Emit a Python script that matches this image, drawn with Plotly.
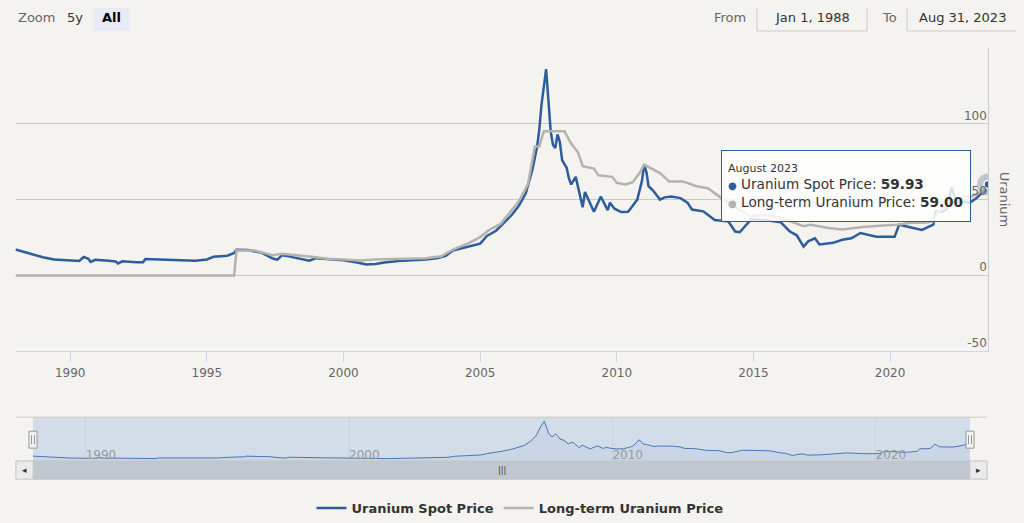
import plotly.graph_objects as go

# ---------------- data ----------------
spot_dates = ["1988-01", "1988-06", "1989-01", "1989-06", "1990-01", "1990-05", "1990-07", "1990-09",
              "1990-10", "1990-12", "1991-06", "1991-09", "1991-10", "1991-12", "1992-06", "1992-09",
              "1992-10", "1993-06", "1994-01", "1994-08", "1995-01", "1995-04", "1995-10", "1996-01",
              "1996-02", "1996-07", "1997-01", "1997-06", "1997-08", "1997-10", "1998-01", "1998-06",
              "1998-10", "1999-01", "1999-06", "2000-01", "2000-07", "2000-11", "2001-03", "2001-07",
              "2002-01", "2002-06", "2003-01", "2003-06", "2003-10", "2004-01", "2004-06", "2004-10",
              "2005-01", "2005-04", "2005-08", "2005-11", "2006-03", "2006-06", "2006-09", "2006-12",
              "2007-02", "2007-03", "2007-04", "2007-06", "2007-08", "2007-09", "2007-10", "2007-11",
              "2007-12", "2008-01", "2008-03", "2008-04", "2008-05", "2008-07", "2008-10", "2008-11",
              "2009-01", "2009-03", "2009-06", "2009-09", "2009-10", "2009-12", "2010-03", "2010-06",
              "2010-08", "2010-10", "2010-12", "2011-01", "2011-02", "2011-03", "2011-05", "2011-08",
              "2011-10", "2012-01", "2012-05", "2012-08", "2012-10", "2013-03", "2013-05", "2013-08",
              "2014-02", "2014-05", "2014-07", "2014-09", "2014-12", "2015-06", "2016-01", "2016-05",
              "2016-08", "2016-11", "2017-01", "2017-04", "2017-06", "2017-12", "2018-04", "2018-08",
              "2018-12", "2019-07", "2020-03", "2020-05", "2020-10", "2021-03", "2021-08", "2021-09",
              "2021-12", "2022-02", "2022-04", "2022-06", "2022-09", "2022-12", "2023-03", "2023-05",
              "2023-07", "2023-08"]
spot_values = [17.1, 15.0, 12.0, 10.5, 9.8, 9.6, 12.2, 11.0,
               8.9, 10.3, 9.7, 9.2, 7.9, 9.3, 8.8, 8.7,
               10.9, 10.5, 10.4, 9.7, 10.6, 12.3, 13.0, 14.8,
               17.0, 16.8, 15.0, 11.2, 10.4, 13.3, 12.6, 11.2,
               9.8, 11.4, 10.9, 10.0, 8.6, 7.2, 7.5, 8.6,
               9.6, 9.9, 10.5, 11.3, 13.0, 16.5, 18.5, 20.0,
               21.0, 26.0, 29.5, 34.0, 40.0, 46.0, 54.0, 70.0,
               85.0, 96.0, 113.0, 136.0, 95.0, 86.0, 84.0, 93.0,
               88.0, 76.0, 71.0, 64.0, 60.0, 65.0, 45.0, 55.0,
               48.0, 42.0, 52.0, 43.0, 48.0, 44.0, 41.8, 42.0,
               46.0, 50.0, 62.0, 72.6, 68.0, 58.8, 56.0, 50.0,
               51.5, 52.0, 51.0, 48.0, 43.5, 42.3, 40.0, 36.5,
               35.5, 29.0, 28.5, 32.0, 37.0, 36.5, 35.0, 29.0,
               26.5, 19.0, 22.5, 24.5, 20.5, 21.5, 23.5, 24.5,
               28.0, 25.5, 25.5, 33.5, 31.5, 30.0, 33.5, 42.5,
               42.0, 44.0, 58.0, 49.0, 48.5, 48.0, 51.0, 54.0,
               56.0, 59.93]

lt_dates = ["1988-01", "1996-01", "1996-02", "1996-10", "1997-06", "1997-10", "1998-10", "1999-06",
            "2000-01", "2000-08", "2001-03", "2003-01", "2003-08", "2004-01", "2004-08", "2005-01",
            "2005-05", "2005-10", "2006-06", "2006-10", "2007-01", "2007-03", "2007-05", "2008-02",
            "2008-05", "2008-08", "2008-10", "2009-03", "2009-05", "2009-11", "2010-01", "2010-05",
            "2010-08", "2010-11", "2011-01", "2011-04", "2011-08", "2011-12", "2012-06", "2012-12",
            "2013-05", "2013-11", "2014-06", "2014-12", "2015-06", "2016-01", "2016-11", "2017-02",
            "2017-10", "2018-04", "2019-01", "2019-10", "2020-04", "2020-10", "2021-04", "2021-08",
            "2021-10", "2022-03", "2022-06", "2022-10", "2023-01", "2023-05", "2023-08"]
lt_values = [0.0, 0.0, 16.5, 16.4, 13.4, 14.3, 12.5, 11.0,
             10.5, 9.9, 10.5, 11.3, 12.7, 17.0, 21.3, 25.3,
             30.0, 34.0, 48.9, 60.0, 85.0, 85.0, 95.0, 95.0,
             87.0, 81.0, 72.0, 70.5, 66.0, 65.0, 61.0, 60.0,
             61.5, 67.5, 73.0, 70.5, 67.5, 62.0, 62.0, 58.8,
             57.5, 51.0, 44.0, 39.0, 40.0, 38.0, 32.5, 33.5,
             31.3, 30.3, 32.0, 33.0, 33.5, 34.7, 34.7, 35.7,
             42.0, 48.0, 50.0, 52.0, 52.0, 55.0, 59.0]

x_tick_years = ["1990", "1995", "2000", "2005", "2010", "2015", "2020"]
nav_tick_years = ["1990", "2000", "2010", "2020"]
y_ticks = [-50, 0, 50, 100]

tooltip_date = "August 2023"
spot_name = "Uranium Spot Price"
lt_name = "Long-term Uranium Price"

# ---------------- styling ----------------
# The page body adds an 8px margin, so the figure is 8px smaller and all
# reference pixel positions are shifted by 8px.
OFF = 8
W, H = 1024 - OFF, 523 - OFF
BG = "#f4f3ef"
SPOT_C = "#2b5d9f"
LT_C = "#b5b3ae"
FONT = "DejaVu Sans"


def px(x):
    return (x - OFF) / W


def py(y):
    return 1 - (y - OFF) / H


fig = go.Figure()

fig.add_trace(go.Scatter(x=spot_dates, y=spot_values, name=spot_name, mode="lines",
                         line=dict(color=SPOT_C, width=2.5), xaxis="x", yaxis="y"))
fig.add_trace(go.Scatter(x=lt_dates, y=lt_values, name=lt_name, mode="lines",
                         line=dict(color=LT_C, width=2.5), xaxis="x", yaxis="y"))
# hover halo / markers at last point
fig.add_trace(go.Scatter(x=[spot_dates[-1]], y=[spot_values[-1]], mode="markers", showlegend=False,
                         marker=dict(size=22, color="rgba(150,160,175,0.55)", line=dict(width=0)),
                         xaxis="x", yaxis="y", hoverinfo="skip"))
fig.add_trace(go.Scatter(x=[spot_dates[-1]], y=[spot_values[-1]], mode="markers", showlegend=False,
                         marker=dict(size=8, color=SPOT_C, line=dict(width=1.5, color="white")),
                         xaxis="x", yaxis="y", hoverinfo="skip"))
# navigator series
fig.add_trace(go.Scatter(x=spot_dates, y=spot_values, mode="lines", showlegend=False,
                         line=dict(color="#4a77b4", width=1), fill="tozeroy",
                         fillcolor="rgba(69,114,167,0.06)", xaxis="x2", yaxis="y2", hoverinfo="skip"))

shapes = []
# navigator mask
shapes.append(dict(type="rect", xref="paper", yref="paper", x0=px(33), x1=px(970), y0=py(462), y1=py(418),
                   fillcolor="#d3dce9", line=dict(width=0), layer="below"))
# navigator top outline
shapes.append(dict(type="line", xref="paper", yref="paper", x0=px(16), x1=px(987), y0=py(418), y1=py(418),
                   line=dict(color="#c8c8c8", width=1)))
# scrollbar track and thumb
shapes.append(dict(type="rect", xref="paper", yref="paper", x0=px(16), x1=px(987), y0=py(480), y1=py(462),
                   fillcolor="#f2f2f2", line=dict(color="#cccccc", width=1)))
shapes.append(dict(type="rect", xref="paper", yref="paper", x0=px(33), x1=px(970), y0=py(480), y1=py(462),
                   fillcolor="#c0c7cf", line=dict(color="#c0c7cf", width=1)))
for a, b in [(16, 33), (970, 987)]:
    shapes.append(dict(type="rect", xref="paper", yref="paper", x0=px(a), x1=px(b), y0=py(480), y1=py(462),
                       fillcolor="#ebebeb", line=dict(color="#cccccc", width=1)))
# handles
for c in [33, 970]:
    shapes.append(dict(type="rect", xref="paper", yref="paper", x0=px(c - 4), x1=px(c + 4), y0=py(449), y1=py(432),
                       fillcolor="#f2f2f2", line=dict(color="#999999", width=1)))
    for d in [-1.5, 1.5]:
        shapes.append(dict(type="line", xref="paper", yref="paper", x0=px(c + d), x1=px(c + d),
                           y0=py(445), y1=py(436), line=dict(color="#999999", width=1)))
# range selector "All" button background
shapes.append(dict(type="rect", xref="paper", yref="paper", x0=px(93), x1=px(130), y0=py(31), y1=py(5),
                   fillcolor="#e6ebf5", line=dict(width=0)))
# date input boxes
for a, b in [(757, 867), (907, 1018)]:
    shapes.append(dict(type="rect", xref="paper", yref="paper", x0=px(a), x1=px(b), y0=py(31), y1=py(5),
                       fillcolor="#f4f3ef", line=dict(color="#cccccc", width=1)))

ann = []
base = dict(xref="paper", yref="paper", showarrow=False, xanchor="center", yanchor="middle")
ann.append(dict(base, text="Zoom", x=px(36), y=py(18), font=dict(size=13, color="#666666")))
ann.append(dict(base, text="5y", x=px(74.5), y=py(18), font=dict(size=13, color="#333333")))
ann.append(dict(base, text="<b>All</b>", x=px(111.5), y=py(18), font=dict(size=13, color="#000000")))
ann.append(dict(base, text="From", x=px(730), y=py(18), font=dict(size=13, color="#666666")))
ann.append(dict(base, text="Jan 1, 1988", x=px(812), y=py(18), font=dict(size=13, color="#333333")))
ann.append(dict(base, text="To", x=px(889), y=py(18), font=dict(size=13, color="#666666")))
ann.append(dict(base, text="Aug 31, 2023", x=px(962.5), y=py(18), font=dict(size=13, color="#333333")))
# axis title
ann.append(dict(base, text="Uranium", x=px(1004), y=py(200), textangle=90,
                font=dict(size=13, color="#666666")))
# scrollbar glyphs
ann.append(dict(base, text="|||", x=px(502), y=py(471), font=dict(size=8, color="#333333")))
ann.append(dict(base, text="◂", x=px(24.5), y=py(471), font=dict(size=9, color="#333333")))
ann.append(dict(base, text="▸", x=px(978.5), y=py(471), font=dict(size=9, color="#333333")))
# tooltip
tip = (f"<span style='font-size:11px'>{tooltip_date}</span><br>"
       f"<span style='color:{SPOT_C};font-size:10px'>●</span> {spot_name}: <b>{spot_values[-1]:.2f}</b><br>"
       f"<span style='color:{LT_C};font-size:10px'>●</span> {lt_name}: <b>{lt_values[-1]:.2f}</b>")
ann.append(dict(xref="paper", yref="paper", showarrow=False, text=tip, x=px(721), y=py(150),
                xanchor="left", yanchor="top", align="left", valign="middle", width=236, height=58,
                font=dict(size=13.6, color="#333333"), bordercolor=SPOT_C, borderwidth=1, borderpad=6,
                bgcolor="rgba(255,255,255,0.82)"))

fig.update_layout(
    width=W, height=H,
    margin=dict(l=0, r=0, t=0, b=0),
    paper_bgcolor=BG, plot_bgcolor="rgba(0,0,0,0)",
    font=dict(family=FONT, color="#333333"),
    showlegend=True,
    legend=dict(orientation="h", x=px(520), xanchor="center", y=py(509), yanchor="middle",
                font=dict(size=13, color="#333333", weight="bold"), bgcolor="rgba(0,0,0,0)",
                itemwidth=30, tracegroupgap=0),
    xaxis=dict(domain=[px(15.5), px(988)], anchor="y", type="date",
               range=["1988-01-01", "2023-08-01"],
               tickvals=[f"{y}-01-01" for y in x_tick_years], ticktext=x_tick_years,
               showgrid=False, zeroline=False, showline=True, linecolor="#ccd6eb", linewidth=1,
               ticks="outside", ticklen=10, tickcolor="#ccd6eb",
               tickfont=dict(size=12, color="#666666"), fixedrange=True),
    yaxis=dict(domain=[py(352), py(48)], anchor="x", range=[-50, 150], side="right",
               tickvals=y_ticks, ticktext=[str(v) for v in y_ticks],
               ticklabelposition="inside top", showgrid=True, gridcolor="#c9c9c9", gridwidth=1,
               zeroline=False, showline=True, linecolor="#cccccc", ticks="",
               tickfont=dict(size=12, color="#666666"), fixedrange=True),
    xaxis2=dict(domain=[px(33), px(970)], anchor="y2", type="date",
                range=["1988-01-01", "2023-08-01"],
                tickvals=[f"{y}-01-01" for y in nav_tick_years], ticktext=nav_tick_years,
                ticklabelposition="inside right", ticklabelstandoff=-6,
                showgrid=True, gridcolor="#c9d3e0",
                zeroline=False, showline=False, ticks="",
                tickfont=dict(size=12, color="#999999"), fixedrange=True),
    yaxis2=dict(domain=[py(462), py(418)], anchor="x2", range=[0, 150], visible=False, fixedrange=True),
    shapes=shapes,
    annotations=ann,
)

fig.write_html("out.html",
               post_script=f"document.body.style.background='{BG}';")
